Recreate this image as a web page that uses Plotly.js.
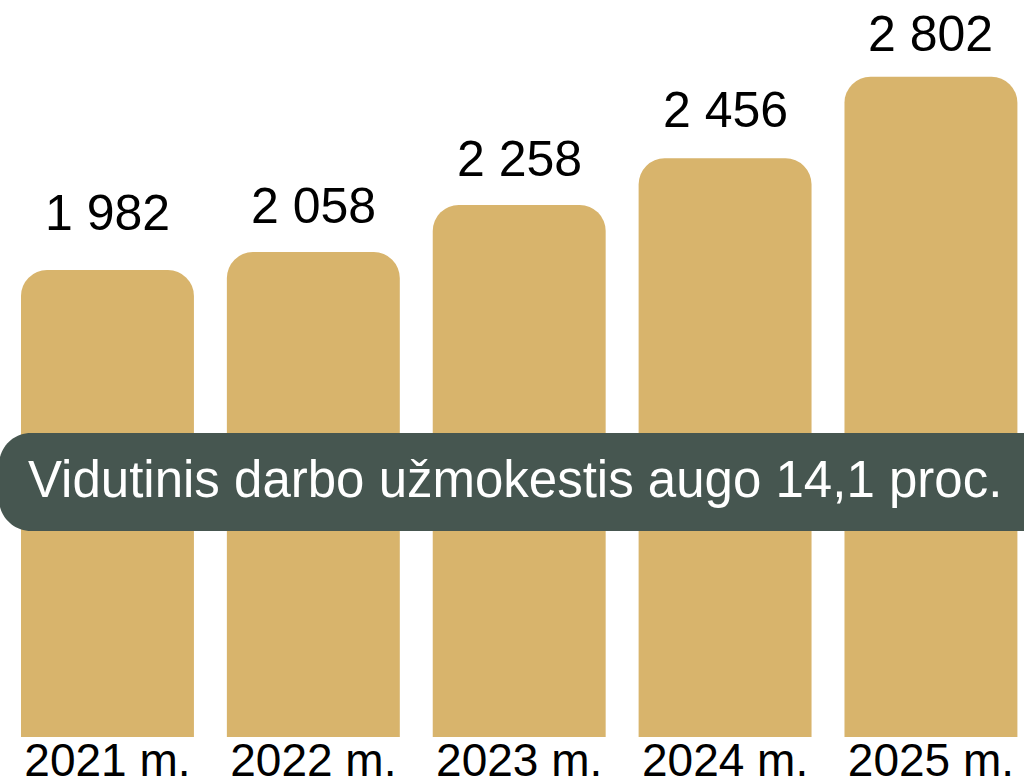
<!DOCTYPE html>
<html>
<head>
<meta charset="utf-8">
<script src="https://cdn.plot.ly/plotly-3.0.1.min.js"></script>
<style>
  html, body { margin: 0; padding: 0; background: #ffffff; }
  #chart { width: 1024px; height: 780px; }
</style>
</head>
<body>
<div id="chart"></div>
<script>
const categories = ["2021 m.", "2022 m.", "2023 m.", "2024 m.", "2025 m."];
const salaries = [1982, 2058, 2258, 2456, 2802];
const bannerText = "Vidutinis darbo užmokestis augo 14,1 proc.";

const W = 1024, H = 780;
const mL = 0, mR = 0, mT = 0, mB = 43;
const plotW = W - mL - mR, plotH = H - mT - mB;
// layout-only: vertical lift (px) of each value label above its bar
const labelLift = [27, 16, 16, 18, 13];

function fmt(v) {
  return String(v).replace(/\B(?=(\d{3})+(?!\d))/g, " ");
}
function px(x) { return (x - mL) / plotW; }
function py(y) { return (mT + plotH - y) / plotH; }

function roundedRect(x0, y0, x1, y1, r) {
  const k = 0.5523 * r;
  return [
    "M", px(x0 + r), py(y0),
    "L", px(x1 - r), py(y0),
    "C", px(x1 - r + k), py(y0), px(x1), py(y0 + r - k), px(x1), py(y0 + r),
    "L", px(x1), py(y1 - r),
    "C", px(x1), py(y1 - r + k), px(x1 - r + k), py(y1), px(x1 - r), py(y1),
    "L", px(x0 + r), py(y1),
    "C", px(x0 + r - k), py(y1), px(x0), py(y1 - r + k), px(x0), py(y1 - r),
    "L", px(x0), py(y0 + r),
    "C", px(x0), py(y0 + r - k), px(x0 + r - k), py(y0), px(x0 + r), py(y0),
    "Z"
  ].join(" ");
}

const FONT = '"Liberation Sans", Arial, Helvetica, sans-serif';

const trace = {
  type: "bar",
  x: categories,
  y: salaries,
  marker: { color: "#D8B46C", cornerradius: 26, line: { width: 0 } },
  hoverinfo: "skip"
};

const valueAnnotations = categories.map((c, i) => ({
  x: c, y: salaries[i], xref: "x", yref: "y",
  text: fmt(salaries[i]),
  showarrow: false,
  yanchor: "bottom",
  yshift: labelLift[i],
  font: { family: FONT, size: 50, color: "#000000" }
}));

const layout = {
  width: W, height: H,
  margin: { l: mL, r: mR, t: mT, b: mB, pad: 0 },
  paper_bgcolor: "#ffffff",
  plot_bgcolor: "#ffffff",
  showlegend: false,
  bargap: 0.16,
  xaxis: {
    type: "category",
    range: [-0.522, 4.452],
    showgrid: false, zeroline: false, showline: false,
    ticks: "",
    ticklabelstandoff: -8,
    tickfont: { family: FONT, size: 46, color: "#000000" },
    fixedrange: true
  },
  yaxis: {
    range: [0, 3128],
    showgrid: false, zeroline: false, showline: false,
    showticklabels: false, ticks: "",
    fixedrange: true
  },
  shapes: [{
    type: "path",
    xref: "paper", yref: "paper",
    path: roundedRect(-1, 433, 1060, 531, 32),
    fillcolor: "#465650",
    line: { width: 0 },
    layer: "above"
  }],
  annotations: valueAnnotations.concat([{
    xref: "paper", yref: "paper",
    x: px(515), y: py(480),
    xanchor: "center", yanchor: "middle",
    text: bannerText,
    showarrow: false,
    font: { family: FONT, size: 51, color: "#ffffff" }
  }])
};

Plotly.newPlot("chart", [trace], layout, { displayModeBar: false, staticPlot: true });
</script>
</body>
</html>
